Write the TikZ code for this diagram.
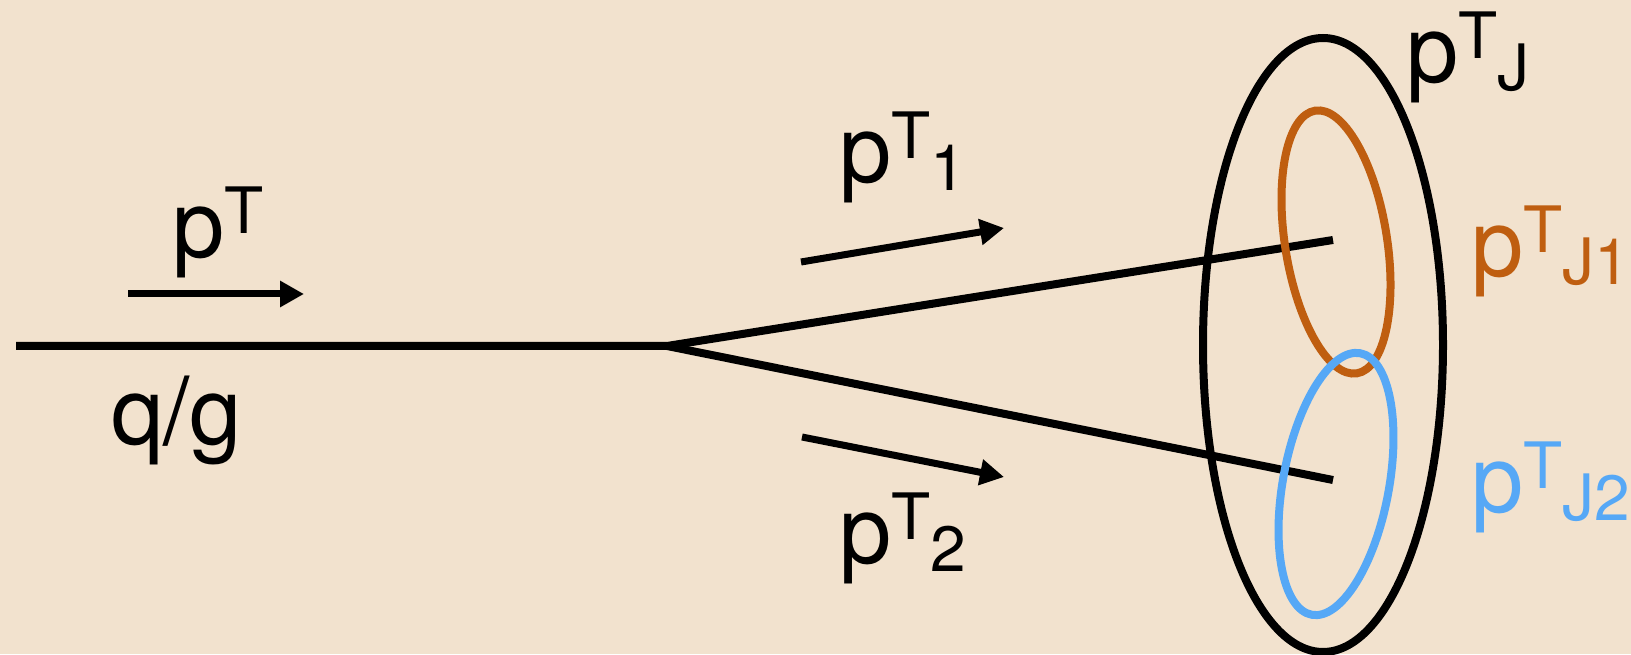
\documentclass[tikz,border=0pt]{standalone}
\usepackage{fontspec}
\setmainfont{TeX Gyre Heros}
\usepackage{xcolor}
\usepackage{tikz}
\usetikzlibrary{arrows.meta}
\definecolor{wood}{HTML}{F2E2CE}
\definecolor{jetorange}{HTML}{BF5E10}
\definecolor{jetblue}{HTML}{56A8F6}
\tikzset{
  lbl/.style={anchor=base west, inner sep=0pt, text=#1,
              font=\fontsize{94}{100}\selectfont},
  lbl/.default=black,
  ptarr/.style={-{Triangle[length=24pt,width=25pt]}, line width=7pt},
  parton/.style={line width=8pt},
  ring/.style={draw=#1, line width=8pt},
}
\newcommand{\ptlabel}[1]{p\raisebox{24pt}{\fontsize{64}{64}\selectfont T}%
  \raisebox{-8pt}{\fontsize{64}{64}\selectfont #1}}

\begin{document}
\begin{tikzpicture}[x=1pt,y=1pt]
  \fill[wood] (0,0) rectangle (1631,654);
  \useasboundingbox (0,0) rectangle (1631,654);

  % parton and the two jets
  \coordinate (in)  at (16,308);
  \coordinate (vtx) at (667,308);
  \coordinate (j1)  at (1333,414);
  \coordinate (j2)  at (1333,174);
  \draw[parton] (in) -- (vtx) -- (j1);
  \draw[parton] (vtx) -- (j2);

  % cones
  \coordinate (cJ)  at (1323,309);
  \coordinate (cJ1) at (1336,412);
  \coordinate (cJ2) at (1336,170);
  \draw[ring=black]     (cJ)  ellipse [x radius=120, y radius=307];
  \draw[ring=jetorange] (cJ1) ellipse [x radius=51, y radius=133, rotate=9];
  \draw[ring=jetblue]   (cJ2) ellipse [x radius=53, y radius=133, rotate=-10.5];

  % momentum arrows
  \coordinate (a0) at (128,360);  \coordinate (b0) at (304,360);
  \coordinate (a1) at (801,392);  \coordinate (b1) at (1004,426);
  \coordinate (a2) at (802,217);  \coordinate (b2) at (1004,177);
  \draw[ptarr] (a0) -- (b0);
  \draw[ptarr] (a1) -- (b1);
  \draw[ptarr] (a2) -- (b2);

  % labels
  \node[lbl] (lpt)  at (172,396)  {\ptlabel{}};
  \node[lbl] (lqg)  at (111,209)  {q/g};
  \node[lbl] (lpt1) at (839,471)  {\ptlabel{1}};
  \node[lbl] (lpt2) at (839,91)   {\ptlabel{2}};
  \node[lbl] (lptJ) at (1406,571) {\ptlabel{J}};
  \node[lbl=jetorange] (lptJ1) at (1471,377) {\ptlabel{J1}};
  \node[lbl=jetblue]   (lptJ2) at (1471,142) {\ptlabel{J2}};
\end{tikzpicture}
\end{document}
